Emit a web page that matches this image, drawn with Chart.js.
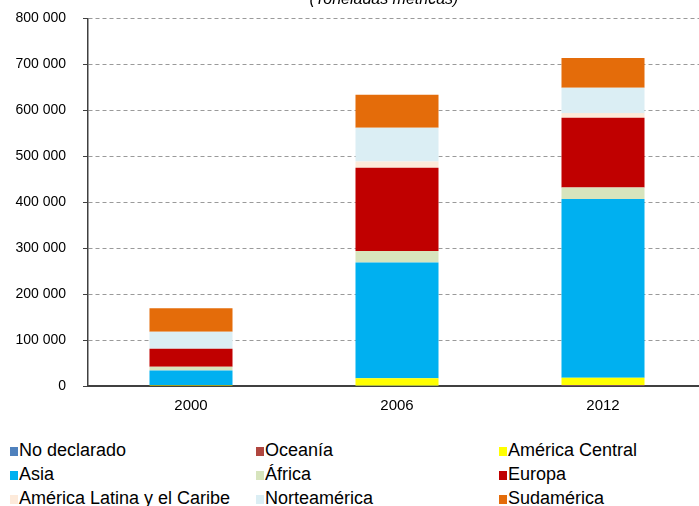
<!DOCTYPE html>
<html>
<head>
<meta charset="utf-8">
<script src="https://cdn.jsdelivr.net/npm/chart.js@4/dist/chart.umd.min.js"></script>
<style>
  body { margin: 0; background: #fff; overflow: hidden; width: 699px; height: 506px; position: relative; }
  #wrap { position: absolute; left: 0; top: -7px; width: 720px; height: 437px; }
  #title { position: absolute; top: -9px; left: 0; width: 768px; text-align: center; font: italic 16px "Liberation Sans", Arial, sans-serif; line-height: 16px; color: #000; }
  .leg { position: absolute; font: 18px "Liberation Sans", Arial, sans-serif; line-height: 18px; color: #000; white-space: nowrap; }
  .leg span.box { display: inline-block; width: 8px; height: 9px; margin-right: 1px; vertical-align: 0px; }
</style>
</head>
<body>
<div id="wrap"><canvas id="volChart" width="720" height="437"></canvas></div>
<div id="title">(Toneladas métricas)</div>
<div id="legend"></div>
<script>
// years on the x axis
const years = ['2000', '2006', '2012'];

// tonnes by region, one array per region
const noDeclarado   = [0, 300, 500];
const oceania       = [0, 500, 1500];
const americaCentral = [2000, 16000, 16000];
const asia          = [32000, 252000, 389000];
const africa        = [8000, 25000, 25000];
const europa        = [39000, 181000, 152000];
const americaLatina = [0, 14000, 10000];
const norteamerica  = [37000, 73000, 55000];
const sudamerica    = [51000, 72000, 65000];

const yTicks = [0, 100000, 200000, 300000, 400000, 500000, 600000, 700000, 800000];

const series = [
  { label: 'No declarado', data: noDeclarado, color: '#4F81BD' },
  { label: 'Oceanía', data: oceania, color: '#B0463F' },
  { label: 'América Central', data: americaCentral, color: '#FFFF00' },
  { label: 'Asia', data: asia, color: '#00B0F0' },
  { label: 'África', data: africa, color: '#D7E4BD' },
  { label: 'Europa', data: europa, color: '#C00000' },
  { label: 'América Latina y el Caribe', data: americaLatina, color: '#FDEADA' },
  { label: 'Norteamérica', data: norteamerica, color: '#DBEEF4' },
  { label: 'Sudamérica', data: sudamerica, color: '#E46C0A' }
];

// "800 000" style numbers
const fmt = v => String(v).replace(/\B(?=(\d{3})+(?!\d))/g, ' ');

const font = { family: '"Liberation Sans", Arial, sans-serif', size: 14 };

new Chart('volChart', {
  type: 'bar',
  data: {
    labels: years,
    datasets: series.map(s => ({
      label: s.label,
      data: s.data,
      backgroundColor: s.color,
      borderWidth: 0,
      categoryPercentage: 1,
      barPercentage: 0.403
    }))
  },
  options: {
    responsive: false,
    animation: false,
    layout: { padding: { top: 11, right: 14, left: 0, bottom: 0 } },
    plugins: {
      legend: { display: false },
      tooltip: { enabled: false }
    },
    scales: {
      x: {
        stacked: true,
        afterFit: s => { s.height = 44; },
        grid: { display: false, drawTicks: false },
        border: { color: '#404040', width: 2 },
        ticks: { color: '#000', padding: 11, font: { ...font, size: 15 } }
      },
      y: {
        stacked: true,
        min: 0,
        max: 800000,
        afterFit: s => { s.width = 88; },
        afterBuildTicks: s => { s.ticks = yTicks.map(v => ({ value: v })); },
        grid: {
          color: '#9a9a9a',
          tickLength: 5,
          tickColor: '#404040',
          tickBorderDash: [],
          tickWidth: 1
        },
        // dashed grid lines, solid axis line
        border: { color: '#404040', width: 1.5, dash: [4, 3] },
        ticks: { color: '#000', padding: 17, font: font, callback: v => fmt(v) }
      }
    }
  }
});

// legend in three columns under the chart
const colX = [10, 256, 499];
const rowY = [441, 465, 489];
const legend = document.getElementById('legend');
series.forEach((s, i) => {
  const item = document.createElement('div');
  item.className = 'leg';
  item.style.left = colX[i % 3] + 'px';
  item.style.top = rowY[Math.floor(i / 3)] + 'px';
  item.innerHTML = '<span class="box" style="background:' + s.color + '"></span>' + s.label;
  legend.appendChild(item);
});
</script>
</body>
</html>
